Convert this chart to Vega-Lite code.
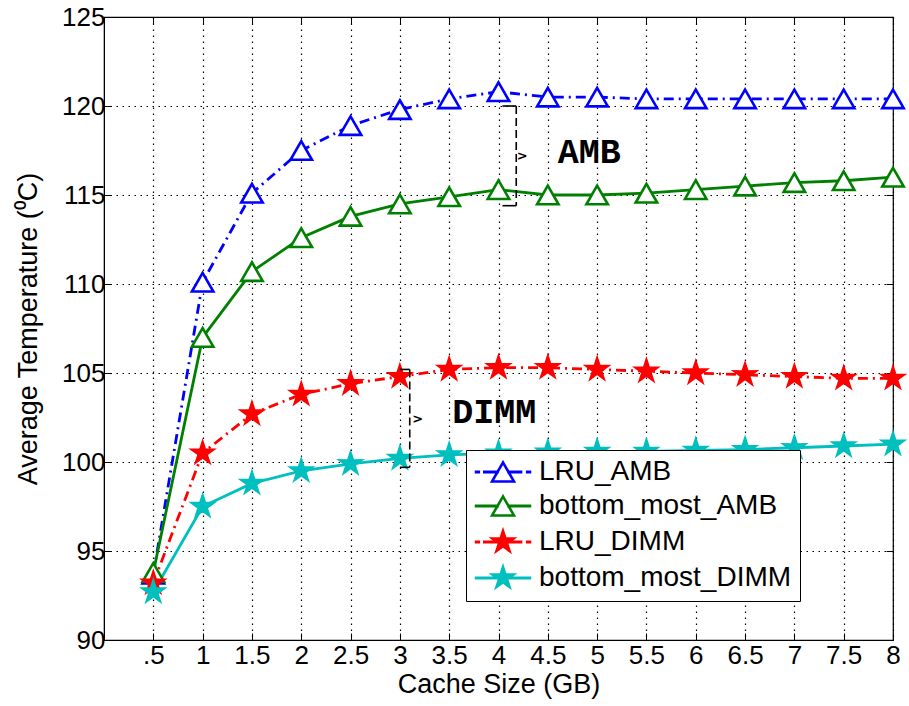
{
  "$schema": "https://vega.github.io/schema/vega-lite/v6.json",
  "width": 789,
  "height": 623,
  "autosize": {"type": "none"},
  "padding": {"left": 104, "top": 17, "right": 16, "bottom": 66},
  "background": "white",
  "config": {
    "view": {"stroke": "black", "strokeWidth": 1.2},
    "font": "Liberation Sans",
    "axis": {"labelFont": "Liberation Sans", "titleFont": "Liberation Sans", "labelFontSize": 26, "titleFontSize": 27, "titleFontWeight": "normal", "labelColor": "black", "titleColor": "black", "domainColor": "black", "tickColor": "black"}
  },
  "datasets": {
    "temps": [
      {"x": 0.5, "series": "LRU_AMB", "temp": 93.7}, {"x": 1, "series": "LRU_AMB", "temp": 110.1}, {"x": 1.5, "series": "LRU_AMB", "temp": 115.1}, {"x": 2, "series": "LRU_AMB", "temp": 117.5}, {"x": 2.5, "series": "LRU_AMB", "temp": 118.9}, {"x": 3, "series": "LRU_AMB", "temp": 119.8}, {"x": 3.5, "series": "LRU_AMB", "temp": 120.4}, {"x": 4, "series": "LRU_AMB", "temp": 120.8}, {"x": 4.5, "series": "LRU_AMB", "temp": 120.5}, {"x": 5, "series": "LRU_AMB", "temp": 120.5}, {"x": 5.5, "series": "LRU_AMB", "temp": 120.4}, {"x": 6, "series": "LRU_AMB", "temp": 120.4}, {"x": 6.5, "series": "LRU_AMB", "temp": 120.4}, {"x": 7, "series": "LRU_AMB", "temp": 120.4}, {"x": 7.5, "series": "LRU_AMB", "temp": 120.4}, {"x": 8, "series": "LRU_AMB", "temp": 120.4},
      {"x": 0.5, "series": "bottom_most_AMB", "temp": 93.8}, {"x": 1, "series": "bottom_most_AMB", "temp": 107.0}, {"x": 1.5, "series": "bottom_most_AMB", "temp": 110.7}, {"x": 2, "series": "bottom_most_AMB", "temp": 112.6}, {"x": 2.5, "series": "bottom_most_AMB", "temp": 113.8}, {"x": 3, "series": "bottom_most_AMB", "temp": 114.5}, {"x": 3.5, "series": "bottom_most_AMB", "temp": 114.9}, {"x": 4, "series": "bottom_most_AMB", "temp": 115.3}, {"x": 4.5, "series": "bottom_most_AMB", "temp": 115.0}, {"x": 5, "series": "bottom_most_AMB", "temp": 115.0}, {"x": 5.5, "series": "bottom_most_AMB", "temp": 115.1}, {"x": 6, "series": "bottom_most_AMB", "temp": 115.3}, {"x": 6.5, "series": "bottom_most_AMB", "temp": 115.5}, {"x": 7, "series": "bottom_most_AMB", "temp": 115.7}, {"x": 7.5, "series": "bottom_most_AMB", "temp": 115.8}, {"x": 8, "series": "bottom_most_AMB", "temp": 116.0},
      {"x": 0.5, "series": "LRU_DIMM", "temp": 93.2}, {"x": 1, "series": "LRU_DIMM", "temp": 100.5}, {"x": 1.5, "series": "LRU_DIMM", "temp": 102.7}, {"x": 2, "series": "LRU_DIMM", "temp": 103.8}, {"x": 2.5, "series": "LRU_DIMM", "temp": 104.4}, {"x": 3, "series": "LRU_DIMM", "temp": 104.8}, {"x": 3.5, "series": "LRU_DIMM", "temp": 105.2}, {"x": 4, "series": "LRU_DIMM", "temp": 105.3}, {"x": 4.5, "series": "LRU_DIMM", "temp": 105.3}, {"x": 5, "series": "LRU_DIMM", "temp": 105.2}, {"x": 5.5, "series": "LRU_DIMM", "temp": 105.1}, {"x": 6, "series": "LRU_DIMM", "temp": 105.0}, {"x": 6.5, "series": "LRU_DIMM", "temp": 104.9}, {"x": 7, "series": "LRU_DIMM", "temp": 104.8}, {"x": 7.5, "series": "LRU_DIMM", "temp": 104.7}, {"x": 8, "series": "LRU_DIMM", "temp": 104.7},
      {"x": 0.5, "series": "bottom_most_DIMM", "temp": 92.7}, {"x": 1, "series": "bottom_most_DIMM", "temp": 97.5}, {"x": 1.5, "series": "bottom_most_DIMM", "temp": 98.8}, {"x": 2, "series": "bottom_most_DIMM", "temp": 99.5}, {"x": 2.5, "series": "bottom_most_DIMM", "temp": 99.9}, {"x": 3, "series": "bottom_most_DIMM", "temp": 100.2}, {"x": 3.5, "series": "bottom_most_DIMM", "temp": 100.4}, {"x": 4, "series": "bottom_most_DIMM", "temp": 100.5}, {"x": 4.5, "series": "bottom_most_DIMM", "temp": 100.55}, {"x": 5, "series": "bottom_most_DIMM", "temp": 100.6}, {"x": 5.5, "series": "bottom_most_DIMM", "temp": 100.6}, {"x": 6, "series": "bottom_most_DIMM", "temp": 100.65}, {"x": 6.5, "series": "bottom_most_DIMM", "temp": 100.7}, {"x": 7, "series": "bottom_most_DIMM", "temp": 100.8}, {"x": 7.5, "series": "bottom_most_DIMM", "temp": 100.9}, {"x": 8, "series": "bottom_most_DIMM", "temp": 101.0}
    ],
    "brackets": [
      {"x": 4.18, "y": 120.0, "y2": 114.4},
      {"x": 3.1, "y": 105.2, "y2": 99.7}
    ],
    "hooks": [
      {"x": 4.04, "x2": 4.18, "y": 120.0},
      {"x": 4.04, "x2": 4.18, "y": 114.4},
      {"x": 3.0, "x2": 3.1, "y": 105.2},
      {"x": 3.0, "x2": 3.1, "y": 99.7}
    ],
    "chevrons": [
      {"x": 4.24, "y": 117.2},
      {"x": 3.18, "y": 102.4}
    ],
    "labels": [
      {"x": 4.6, "y": 117.4, "label": "AMB"},
      {"x": 3.53, "y": 102.8, "label": "DIMM"}
    ]
  },
  "layer": [
    {
      "data": {"name": "temps"},
      "transform": [{"filter": {"field": "series", "oneOf": ["LRU_AMB", "LRU_DIMM"]}}],
      "mark": {"type": "line", "strokeWidth": 2.8, "strokeDash": [10, 5, 2, 5]},
      "encoding": {
        "x": {"field": "x", "type": "quantitative", "scale": {"domain": [0, 8], "nice": false, "zero": false},
          "axis": {"title": "Cache Size (GB)", "values": [0.5, 1, 1.5, 2, 2.5, 3, 3.5, 4, 4.5, 5, 5.5, 6, 6.5, 7, 7.5, 8], "labelExpr": "datum.value == 0.5 ? '.5' : format(datum.value, '~g')", "grid": true, "gridColor": "black", "gridDash": [1.5, 4.5], "gridWidth": 1.2, "tickSize": -7, "labelPadding": 9, "titlePadding": 3, "labelFlush": false}},
        "y": {"field": "temp", "type": "quantitative", "scale": {"domain": [90, 125], "nice": false, "zero": false},
          "axis": {"title": "Average Temperature (⁰C)", "values": [90, 95, 100, 105, 110, 115, 120, 125], "grid": true, "gridColor": "black", "gridDash": [1.5, 4.5], "gridWidth": 1.2, "tickSize": -7, "labelPadding": 6, "titlePadding": 19, "labelFlush": false}},
        "stroke": {"field": "series", "type": "nominal",
          "scale": {"domain": ["LRU_AMB", "bottom_most_AMB", "LRU_DIMM", "bottom_most_DIMM"], "range": ["#0000ff", "#008000", "#ff0000", "#00bfbf"]},
          "legend": {"title": null, "orient": "none", "legendX": 362, "legendY": 433, "fillColor": "white", "strokeColor": "black", "padding": 8,
            "labelFontSize": 28, "labelFont": "Liberation Sans", "labelColor": "black", "labelLimit": 500, "symbolSize": 484, "symbolStrokeWidth": 2.6,
            "symbolOffset": 15, "labelOffset": 22, "rowPadding": 4,
            "encode": {"symbols": {"update": {
              "shape": {"signal": "datum.value == 'LRU_AMB' ? 'M-2.45,-0.02L-2.2,-0.02L-2.2,0.02L-2.45,0.02ZM-1.7,-0.02L-0.5,-0.02L-0.5,0.02L-1.7,0.02ZM0.5,-0.02L1.64,-0.02L1.64,0.02L0.5,0.02ZM2.2,-0.02L2.45,-0.02L2.45,0.02L2.2,0.02ZM0,-0.866L1,0.866L-1,0.866Z' : datum.value == 'bottom_most_AMB' ? 'M-2.45,-0.02L-0.5,-0.02L-0.5,0.02L-2.45,0.02ZM0.5,-0.02L2.45,-0.02L2.45,0.02L0.5,0.02ZM0,-0.866L1,0.866L-1,0.866Z' : datum.value == 'LRU_DIMM' ? 'M-2.45,-0.02L-2.2,-0.02L-2.2,0.02L-2.45,0.02ZM-1.7,-0.02L1.64,-0.02L1.64,0.02L-1.7,0.02ZM2.2,-0.02L2.45,-0.02L2.45,0.02L2.2,0.02ZM0,-1L0.223,-0.307L0.951,-0.309L0.361,0.117L0.588,0.809L0,0.38L-0.588,0.809L-0.361,0.117L-0.951,-0.309L-0.223,-0.307Z' : 'M-2.45,-0.02L2.45,-0.02L2.45,0.02L-2.45,0.02ZM0,-1L0.223,-0.307L0.951,-0.309L0.361,0.117L0.588,0.809L0,0.38L-0.588,0.809L-0.361,0.117L-0.951,-0.309L-0.223,-0.307Z'"},
              "fill": {"signal": "datum.value == 'LRU_AMB' || datum.value == 'bottom_most_AMB' ? 'white' : datum.value == 'LRU_DIMM' ? '#ff0000' : '#00bfbf'"},
              "fillOpacity": {"value": 1},
              "strokeDash": {"value": [1, 0]},
              "size": {"value": 484}
            }}}
          }}
      }
    },
    {
      "data": {"name": "temps"},
      "transform": [{"filter": {"field": "series", "oneOf": ["bottom_most_AMB", "bottom_most_DIMM"]}}],
      "mark": {"type": "line", "strokeWidth": 2.8},
      "encoding": {
        "x": {"field": "x", "type": "quantitative", "axis": null},
        "y": {"field": "temp", "type": "quantitative", "axis": null},
        "stroke": {"field": "series", "type": "nominal", "legend": null}
      }
    },
    {
      "data": {"name": "temps"},
      "transform": [{"filter": {"field": "series", "oneOf": ["LRU_AMB", "bottom_most_AMB"]}}],
      "mark": {"type": "point", "shape": "M0,-0.866L1,0.866L-1,0.866Z", "filled": false, "fill": "white", "fillOpacity": 1, "strokeWidth": 2.6, "opacity": 1, "size": 460},
      "encoding": {
        "x": {"field": "x", "type": "quantitative", "axis": null},
        "y": {"field": "temp", "type": "quantitative", "axis": null},
        "stroke": {"field": "series", "type": "nominal", "legend": null}
      }
    },
    {
      "data": {"name": "temps"},
      "transform": [{"filter": {"field": "series", "oneOf": ["LRU_DIMM", "bottom_most_DIMM"]}}],
      "mark": {"type": "point", "shape": "M0,-1L0.223,-0.307L0.951,-0.309L0.361,0.117L0.588,0.809L0,0.38L-0.588,0.809L-0.361,0.117L-0.951,-0.309L-0.223,-0.307Z", "filled": true, "strokeWidth": 2, "opacity": 1, "fillOpacity": 1, "size": 560},
      "encoding": {
        "x": {"field": "x", "type": "quantitative", "axis": null},
        "y": {"field": "temp", "type": "quantitative", "axis": null},
        "stroke": {"field": "series", "type": "nominal", "legend": null},
        "fill": {"field": "series", "type": "nominal",
          "scale": {"domain": ["LRU_AMB", "bottom_most_AMB", "LRU_DIMM", "bottom_most_DIMM"], "range": ["white", "white", "#ff0000", "#00bfbf"]},
          "legend": null}
      }
    },
    {
      "data": {"name": "brackets"},
      "mark": {"type": "rule", "color": "black", "strokeWidth": 1.6, "strokeDash": [8, 4]},
      "encoding": {
        "x": {"field": "x", "type": "quantitative", "axis": null},
        "y": {"field": "y", "type": "quantitative", "axis": null},
        "y2": {"field": "y2"}
      }
    },
    {
      "data": {"name": "hooks"},
      "mark": {"type": "rule", "color": "black", "strokeWidth": 1.6},
      "encoding": {
        "x": {"field": "x", "type": "quantitative", "axis": null},
        "x2": {"field": "x2"},
        "y": {"field": "y", "type": "quantitative", "axis": null}
      }
    },
    {
      "data": {"name": "chevrons"},
      "mark": {"type": "text", "text": ">", "font": "DejaVu Sans", "fontSize": 13, "fontWeight": "bold", "color": "black", "align": "center", "baseline": "middle"},
      "encoding": {
        "x": {"field": "x", "type": "quantitative", "axis": null},
        "y": {"field": "y", "type": "quantitative", "axis": null}
      }
    },
    {
      "data": {"name": "labels"},
      "mark": {"type": "text", "font": "Liberation Mono", "fontSize": 35, "fontWeight": "bold", "color": "black", "align": "left", "baseline": "middle"},
      "encoding": {
        "x": {"field": "x", "type": "quantitative", "axis": {"orient": "top", "labels": false, "title": null, "grid": false, "domain": false, "tickSize": -7, "values": [0.5, 1, 1.5, 2, 2.5, 3, 3.5, 4, 4.5, 5, 5.5, 6, 6.5, 7, 7.5, 8]}},
        "y": {"field": "y", "type": "quantitative", "axis": {"orient": "right", "labels": false, "title": null, "grid": false, "domain": false, "tickSize": -7, "values": [90, 95, 100, 105, 110, 115, 120, 125]}},
        "text": {"field": "label"}
      }
    }
  ],
  "resolve": {"axis": {"x": "independent", "y": "independent"}}
}
